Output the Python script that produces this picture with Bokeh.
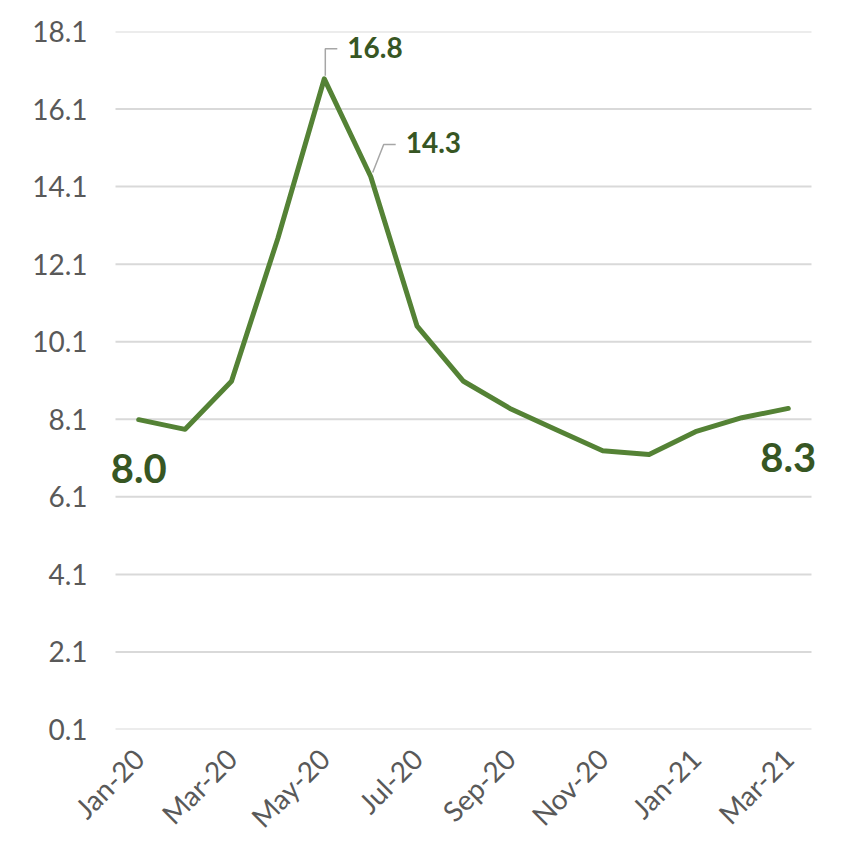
import math
from bokeh.plotting import figure
from bokeh.models import Range1d, FixedTicker, Label
from bokeh.embed import file_html
from bokeh.resources import INLINE

# ---- data ----
months = ["Jan-20", "Feb-20", "Mar-20", "Apr-20", "May-20", "Jun-20", "Jul-20",
          "Aug-20", "Sep-20", "Oct-20", "Nov-20", "Dec-20", "Jan-21", "Feb-21", "Mar-21"]
values = [8.04, 7.79, 9.03, 12.72, 16.83, 14.31, 10.45,
          9.03, 8.33, 7.78, 7.24, 7.14, 7.73, 8.09, 8.33]
y_ticks = [0.05, 2.05, 4.05, 6.05, 8.05, 10.05, 12.05, 14.05, 16.05, 18.05]
y_tick_labels = ["0.1", "2.1", "4.1", "6.1", "8.1", "10.1", "12.1", "14.1", "16.1", "18.1"]
x_tick_idx = [0, 2, 4, 6, 8, 10, 12, 14]
big_label_idx = [0, 14]
callout_idx = [4, 5]

LINE = "#548235"
LABEL = "#375623"
TICK = "#595959"
FONT = "Lato"

# plot area (category band) in pixels, plus extra room so end labels are not clipped
BAND_W, FH = 696, 698
PAD_L, PAD_R = 15, 10
n = len(months)
ux = BAND_W / n
x_lo, x_hi = -0.5, n - 0.5
x_range = Range1d(x_lo - PAD_L / ux, x_hi + PAD_R / ux)
y_range = Range1d(y_ticks[0], y_ticks[-1])
uy = FH / (y_range.end - y_range.start)

p = figure(frame_width=BAND_W + PAD_L + PAD_R, frame_height=FH,
           x_range=x_range, y_range=y_range,
           output_backend="svg", toolbar_location=None,
           min_border_left=115 - PAD_L, min_border_right=0, min_border_top=31,
           min_border_bottom=97)
p.outline_line_color = None
p.background_fill_color = "white"
p.border_fill_color = "white"

# axes
p.yaxis.ticker = FixedTicker(ticks=y_ticks)
p.yaxis.major_label_overrides = {t: l for t, l in zip(y_ticks, y_tick_labels)}
p.xaxis.ticker = FixedTicker(ticks=x_tick_idx)
p.xaxis.major_label_overrides = {i: months[i] for i in x_tick_idx}
p.xaxis.major_label_orientation = math.pi / 4
for ax in (p.xaxis, p.yaxis):
    ax.axis_line_color = None
    ax.major_tick_line_color = None
    ax.minor_tick_line_color = None
    ax.major_label_text_font = FONT
    ax.major_label_text_color = TICK
p.yaxis.major_label_text_font_size = "28px"
p.xaxis.major_label_text_font_size = "28px"
p.yaxis.major_label_standoff = 22 - PAD_L
p.xaxis.major_label_standoff = 18

# horizontal gridlines over the category band only
p.xgrid.grid_line_color = None
p.ygrid.grid_line_color = None
p.segment(x0=[x_lo] * len(y_ticks), y0=y_ticks, x1=[x_hi] * len(y_ticks), y1=y_ticks,
          line_color="#D9D9D9", line_width=2)

xs = list(range(n))
p.line(xs, values, line_color=LINE, line_width=5, line_join="round", line_cap="round")

# big end labels
for i in big_label_idx:
    p.add_layout(Label(x=xs[i], y=values[i], text=f"{values[i]:.1f}",
                       text_font=FONT, text_font_style="bold", text_font_size="40px",
                       text_color=LABEL, text_align="center", text_baseline="alphabetic",
                       y_offset=-49))

# callout labels with leader lines
label_dx = [23, 35]
label_dy = [31, 34]
leader_pts = [[(1, 3), (1, 30), (13, 30)], [(2, 4), (13, 32), (25, 32)]]
for k, i in enumerate(callout_idx):
    p.add_layout(Label(x=xs[i], y=values[i], text=f"{values[i]:.1f}",
                       text_font=FONT, text_font_style="bold", text_font_size="28px",
                       text_color=LABEL, text_align="left", text_baseline="alphabetic",
                       x_offset=label_dx[k], y_offset=label_dy[k]))
    lx = [xs[i] + dx / ux for dx, dy in leader_pts[k]]
    ly = [values[i] + dy / uy for dx, dy in leader_pts[k]]
    p.line(lx, ly, line_color="#A6A6A6", line_width=1.5)

open("out.html", "w").write(file_html(p, INLINE))
